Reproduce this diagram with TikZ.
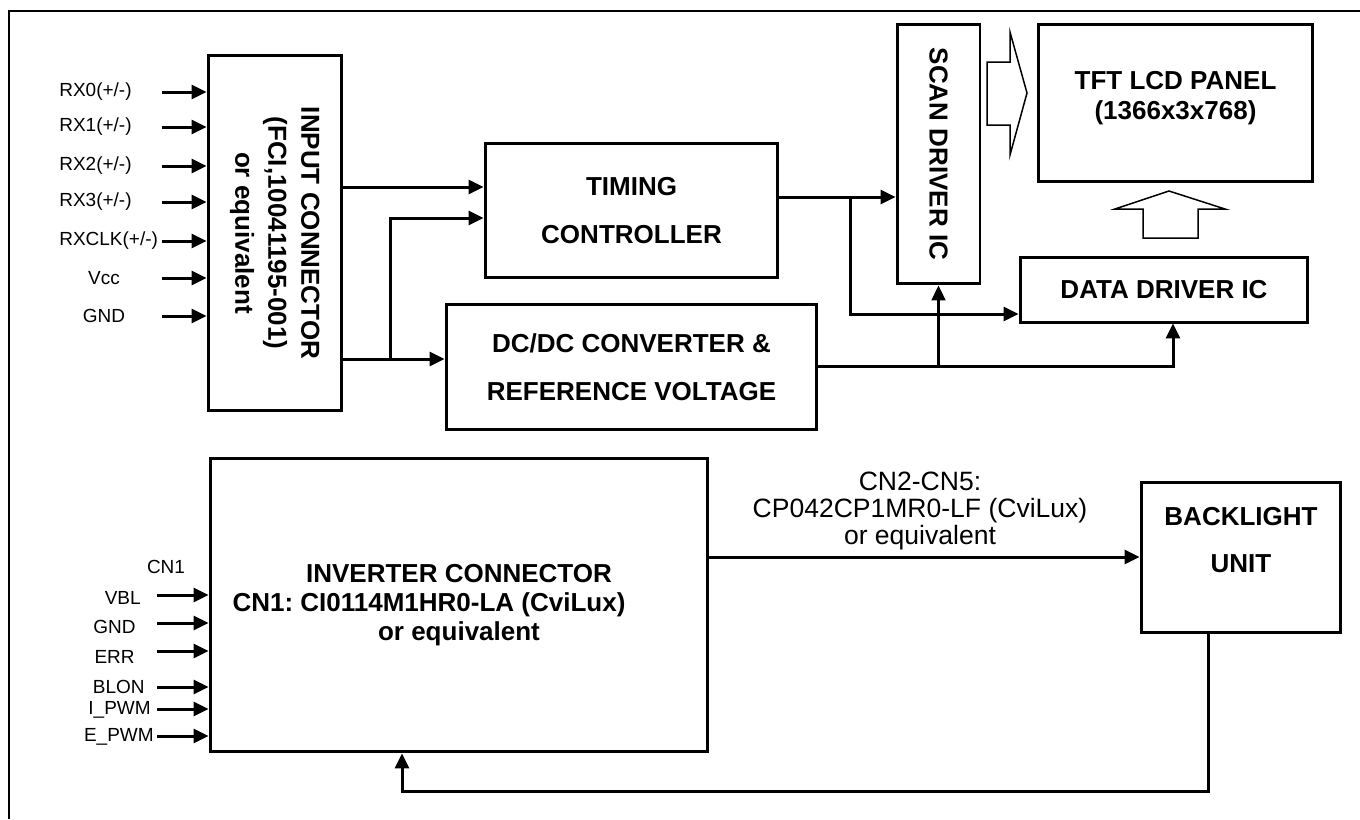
\documentclass[tikz,border=0pt]{standalone}
\usepackage{fontspec}
\setmainfont{Liberation Sans}
\usepackage{graphicx}
\usetikzlibrary{positioning,arrows.meta,calc}

\begin{document}
\begin{tikzpicture}[
    x=0.02cm, y=-0.02cm,
    blk/.style={rectangle, draw=black, line width=0.06cm, align=center, inner sep=0pt, font=\fontsize{14.8}{#1}\selectfont\bfseries},
    blk/.default=27.3pt,
    sig/.style={inner sep=0pt, font=\fontsize{10.8}{12}\selectfont},
    note/.style={inner sep=0pt, align=center, font=\fontsize{15.1}{15.4}\selectfont},
    arrow/.style={-{Triangle[length=0.3cm, width=0.28cm]}, draw=black, line width=0.06cm},
    hollow/.style={draw=black, line width=0.03cm, line join=miter},
    frame/.style={draw=black, line width=0.04cm}
]
    \useasboundingbox (0,0) rectangle (1360,819);

    % Outer frame
    \draw [frame] (1360,11) -- (9,11) -- (9,819);

    % Upper blocks
    \node (inconn) at (275,233) [blk=18.8pt, minimum width=2.68cm, minimum height=7.12cm] {\rotatebox{-90}{\begin{tabular}{@{}c@{}}INPUT CONNECTOR\\(FCI,10041195-001)\\or equivalent\end{tabular}}};
    \node (tcon) at (631.5,210.5) [blk, minimum width=5.86cm, minimum height=2.7cm] {TIMING\\CONTROLLER};
    \node (scan) at (938.5,154) [blk, minimum width=1.66cm, minimum height=5.2cm] {\rotatebox{-90}{SCAN DRIVER IC}};
    \node (panel) at (1175.5,103) [blk=17.5pt, minimum width=5.5cm, minimum height=3.16cm, text depth=0.3cm] {TFT LCD PANEL\\(1366x3x768)};
    \node (ddrv) at (1164,289.5) [blk, minimum width=5.76cm, minimum height=1.3cm] {DATA DRIVER IC};
    \node (dcdc) at (631.5,367) [blk, minimum width=7.42cm, minimum height=2.52cm] {DC/DC CONVERTER \&\\REFERENCE VOLTAGE};

    % Lower blocks
    \node (inv) at (459,605) [blk=16.5pt, minimum width=9.96cm, minimum height=5.88cm] {INVERTER CONNECTOR\\CN1:\ CI0114M1HR0-LA (CviLux)\kern1.2cm\\or equivalent};
    \node (blu) at (1241,557.5) [blk=26.7pt, minimum width=4cm, minimum height=3.02cm, text depth=0.7cm] {BACKLIGHT\\UNIT};

    % Input signals
    \foreach \n/\y/\a/\x/\t in {rx0/92/west/59/{RX0(+/-)}, rx1/127/west/59/{RX1(+/-)}, rx2/166/west/59/{RX2(+/-)}, rx3/202/west/59/{RX3(+/-)}, rxclk/241/west/59/{RXCLK(+/-)}, vcc/278/center/104/Vcc, gnd/316/center/104/GND} {
        \node (\n) at (\x,\y) [sig, anchor=\a] {\t};
        \coordinate (\n s) at (162,\y);
        \draw [arrow] (\n s) -- (\n s -| inconn.west);
    }

    % Inverter signals
    \node (cnone) at (166,567) [sig] {CN1};
    \foreach \n/\y/\ty/\x/\t in {vbl/595/598/141/VBL, ign/623/627/136/GND, err/651/657/135/ERR, blon/687/687/145/BLON, ipwm/709/710/151/I\_PWM, epwm/736/737/154/E\_PWM} {
        \node (\n) at (\x,\ty) [sig, anchor=east] {\t};
        \coordinate (\n s) at (157,\y);
        \draw [arrow] (\n s) -- (\n s -| inv.west);
    }

    % Data paths
    \draw [arrow] (inconn.east |- 0,187) -- (tcon.west |- 0,187);
    \draw [arrow] (inconn.east |- 0,359) -- (dcdc.west |- 0,359);
    \coordinate (split) at (390,359);
    \draw [arrow] (split) |- (tcon.west |- 0,218);
    \draw [arrow] (tcon.east |- 0,197) -- (scan.west |- 0,197);
    \coordinate (fork) at (850,197);
    \draw [arrow] (fork) |- (ddrv.west |- 0,314);
    \draw [arrow] (dcdc.east |- 0,366) -| (1173,0 |- ddrv.south);
    \draw [arrow, line width=0.045cm] (scan.south |- 0,366) -- (scan.south);

    % Hollow arrows to panel
    \draw [hollow] (987,62) -- (1010,62) -- (1010,32) -- (1027,93) -- (1010,155) -- (1010,125) -- (987,125) -- cycle;
    \draw [hollow] (1143,238) -- (1143,209) -- (1115,209) -- (1169,191) -- (1225,209) -- (1198,209) -- (1198,238) -- cycle;

    % Backlight link
    \draw [arrow] (inv.east |- 0,557) -- (blu.west |- 0,557);
    \node (cnlbl) at (920,511) [note] {CN2-CN5:\\CP042CP1MR0-LF (CviLux)\\or equivalent};
    \draw [arrow] (1208,0 |- blu.south) -- (1208,791) -| (402,0 |- inv.south);

\end{tikzpicture}
\end{document}
